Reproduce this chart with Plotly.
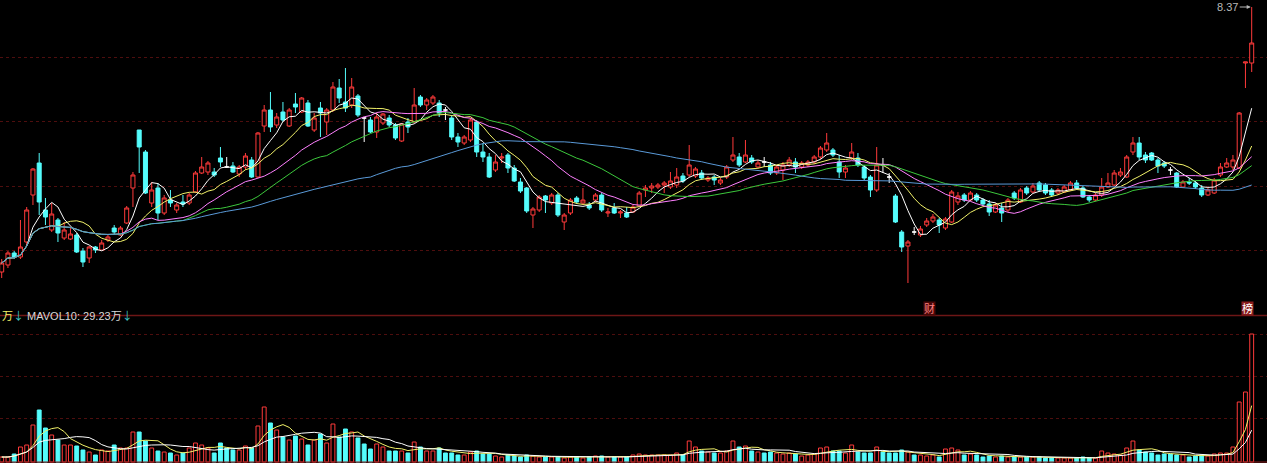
import plotly.graph_objects as go
import pandas as pd

# ---------------- data ----------------
open_ = [5.72, 5.79, 5.91, 5.87, 6.02, 6.49, 6.81, 6.34, 6.14, 6.24,
         6.06, 6.05, 6.09, 5.93, 5.86, 5.97, 5.94, 6.04, 6.16, 6.09,
         6.21, 6.56, 7.14, 6.92, 6.41, 6.56, 6.31, 6.44, 6.34, 6.42,
         6.41, 6.52, 6.71, 6.72, 6.72, 6.86, 6.77, 6.78, 6.70, 6.77,
         6.84, 6.67, 7.18, 7.34, 7.19, 7.32, 7.18, 7.40, 7.32, 7.41,
         7.14, 7.36, 7.22, 7.34, 7.56, 7.42, 7.39, 7.48, 7.26, 7.24,
         7.12, 7.21, 7.26, 7.19, 7.03, 7.22, 7.22, 7.47, 7.39, 7.41,
         7.41, 7.34, 7.26, 7.07, 7.01, 7.04, 7.22, 6.92, 6.87, 6.74,
         6.86, 6.89, 6.76, 6.62, 6.56, 6.29, 6.34, 6.48, 6.41, 6.49,
         6.22, 6.31, 6.46, 6.41, 6.39, 6.44, 6.49, 6.31, 6.36, 6.31,
         6.31, 6.32, 6.38, 6.54, 6.56, 6.57, 6.59, 6.57, 6.59, 6.68,
         6.69, 6.68, 6.71, 6.64, 6.67, 6.61, 6.67, 6.84, 6.87, 6.82,
         6.86, 6.77, 6.82, 6.79, 6.71, 6.74, 6.79, 6.82, 6.77, 6.79,
         6.82, 6.87, 6.94, 6.94, 6.82, 6.72, 6.86, 6.86, 6.77, 6.67,
         6.54, 6.79, 6.67, 6.48, 6.12, 5.98, 6.12, 6.09, 6.19, 6.23,
         6.24, 6.16, 6.22, 6.42, 6.49, 6.44, 6.49, 6.44, 6.40, 6.32,
         6.36, 6.34, 6.51, 6.42, 6.56, 6.52, 6.61, 6.59, 6.54, 6.51,
         6.52, 6.54, 6.61, 6.56, 6.47, 6.44, 6.49, 6.57, 6.59, 6.69,
         6.67, 6.92, 7.01, 6.89, 6.91, 6.84, 6.81, 6.74, 6.71, 6.57,
         6.62, 6.61, 6.56, 6.49, 6.51, 6.69, 6.77, 6.77, 6.76, 7.81,
         7.81]
high = [5.85, 5.93, 5.93, 6.24, 6.37, 6.76, 6.91, 6.46, 6.41, 6.26,
        6.22, 6.16, 6.11, 5.96, 5.98, 5.98, 6.04, 6.09, 6.19, 6.18,
        6.38, 6.72, 7.14, 6.94, 6.62, 6.61, 6.49, 6.54, 6.41, 6.49,
        6.51, 6.73, 6.87, 6.83, 6.76, 6.97, 6.87, 6.82, 6.79, 6.91,
        6.87, 7.12, 7.39, 7.52, 7.31, 7.42, 7.36, 7.51, 7.47, 7.44,
        7.31, 7.42, 7.36, 7.62, 7.65, 7.76, 7.66, 7.50, 7.27, 7.27,
        7.31, 7.31, 7.29, 7.21, 7.21, 7.26, 7.56, 7.49, 7.46, 7.49,
        7.44, 7.37, 7.29, 7.11, 7.09, 7.26, 7.24, 7.01, 6.91, 6.89,
        6.91, 6.91, 6.79, 6.66, 6.57, 6.37, 6.49, 6.49, 6.51, 6.51,
        6.31, 6.46, 6.48, 6.56, 6.42, 6.51, 6.51, 6.36, 6.41, 6.34,
        6.37, 6.39, 6.53, 6.59, 6.61, 6.61, 6.63, 6.72, 6.76, 6.71,
        6.99, 6.77, 6.74, 6.68, 6.69, 6.66, 6.79, 7.07, 6.91, 7.04,
        6.89, 6.84, 6.87, 6.82, 6.79, 6.82, 6.87, 6.86, 6.83, 6.84,
        6.89, 6.98, 7.11, 6.96, 6.89, 6.79, 7.01, 6.91, 6.79, 6.69,
        6.97, 6.86, 6.71, 6.50, 6.14, 6.04, 6.17, 6.18, 6.26, 6.30,
        6.26, 6.27, 6.54, 6.52, 6.51, 6.53, 6.51, 6.46, 6.44, 6.41,
        6.41, 6.46, 6.53, 6.56, 6.58, 6.61, 6.63, 6.61, 6.56, 6.56,
        6.59, 6.63, 6.64, 6.58, 6.49, 6.51, 6.66, 6.71, 6.74, 6.76,
        6.89, 7.07, 7.07, 6.92, 6.92, 6.86, 6.83, 6.77, 6.72, 6.64,
        6.66, 6.63, 6.59, 6.56, 6.66, 6.81, 6.86, 6.89, 7.32, 7.82,
        8.37]
low = [5.66, 5.76, 5.85, 5.85, 5.99, 6.39, 6.29, 6.19, 6.12, 6.02,
       6.04, 6.04, 5.91, 5.77, 5.81, 5.91, 5.94, 6.02, 6.09, 6.08,
       6.20, 6.37, 6.71, 6.50, 6.37, 6.24, 6.29, 6.37, 6.31, 6.37,
       6.39, 6.51, 6.70, 6.69, 6.67, 6.77, 6.76, 6.71, 6.67, 6.74,
       6.66, 6.66, 7.12, 7.12, 7.16, 7.22, 7.17, 7.31, 7.31, 7.17,
       7.12, 7.07, 7.09, 7.32, 7.41, 7.32, 7.36, 7.27, 7.02, 7.11,
       7.06, 7.19, 7.17, 7.04, 7.02, 7.11, 7.21, 7.37, 7.34, 7.39,
       7.27, 7.24, 7.04, 6.97, 6.99, 7.02, 6.87, 6.82, 6.66, 6.72,
       6.81, 6.71, 6.62, 6.51, 6.31, 6.16, 6.32, 6.31, 6.39, 6.27,
       6.14, 6.29, 6.40, 6.39, 6.34, 6.42, 6.32, 6.27, 6.30, 6.26,
       6.26, 6.31, 6.37, 6.47, 6.51, 6.55, 6.51, 6.55, 6.56, 6.61,
       6.67, 6.66, 6.64, 6.62, 6.59, 6.59, 6.65, 6.82, 6.77, 6.81,
       6.80, 6.76, 6.77, 6.69, 6.69, 6.64, 6.77, 6.71, 6.75, 6.77,
       6.80, 6.85, 6.92, 6.87, 6.66, 6.66, 6.84, 6.77, 6.64, 6.47,
       6.52, 6.71, 6.61, 6.21, 5.92, 5.61, 6.09, 6.07, 6.17, 6.21,
       6.11, 6.14, 6.21, 6.39, 6.42, 6.43, 6.42, 6.38, 6.28, 6.31,
       6.22, 6.32, 6.44, 6.41, 6.49, 6.51, 6.52, 6.49, 6.47, 6.49,
       6.51, 6.53, 6.54, 6.46, 6.42, 6.43, 6.47, 6.56, 6.58, 6.67,
       6.66, 6.89, 6.84, 6.81, 6.83, 6.71, 6.76, 6.69, 6.56, 6.56,
       6.59, 6.55, 6.47, 6.48, 6.50, 6.67, 6.76, 6.74, 6.75, 7.56,
       7.72]
close = [5.81, 5.91, 5.87, 5.97, 6.34, 6.75, 6.42, 6.27, 6.30, 6.11,
         6.14, 6.10, 5.92, 5.82, 5.97, 5.94, 6.01, 6.07, 6.12, 6.16,
         6.36, 6.69, 6.97, 6.51, 6.54, 6.31, 6.46, 6.41, 6.39, 6.40,
         6.49, 6.71, 6.77, 6.81, 6.69, 6.82, 6.77, 6.72, 6.77, 6.88,
         6.67, 7.11, 7.34, 7.17, 7.27, 7.24, 7.34, 7.37, 7.46, 7.18,
         7.26, 7.31, 7.34, 7.57, 7.46, 7.36, 7.57, 7.29, 7.26, 7.12,
         7.27, 7.30, 7.19, 7.06, 7.20, 7.17, 7.39, 7.39, 7.44, 7.47,
         7.31, 7.34, 7.07, 7.02, 7.07, 7.24, 6.92, 6.87, 6.67, 6.82,
         6.87, 6.76, 6.63, 6.53, 6.33, 6.35, 6.47, 6.44, 6.49, 6.29,
         6.29, 6.44, 6.42, 6.44, 6.36, 6.49, 6.34, 6.32, 6.31, 6.32,
         6.27, 6.37, 6.51, 6.56, 6.58, 6.59, 6.61, 6.63, 6.67, 6.63,
         6.79, 6.75, 6.66, 6.66, 6.64, 6.64, 6.77, 6.89, 6.79, 6.89,
         6.82, 6.81, 6.82, 6.71, 6.77, 6.79, 6.84, 6.77, 6.81, 6.82,
         6.87, 6.96, 7.01, 6.89, 6.72, 6.76, 6.92, 6.79, 6.66, 6.54,
         6.79, 6.79, 6.67, 6.22, 5.97, 6.02, 6.12, 6.15, 6.23, 6.27,
         6.19, 6.25, 6.52, 6.48, 6.44, 6.51, 6.44, 6.40, 6.32, 6.39,
         6.31, 6.44, 6.46, 6.54, 6.51, 6.58, 6.54, 6.51, 6.49, 6.54,
         6.57, 6.61, 6.56, 6.47, 6.44, 6.49, 6.57, 6.61, 6.71, 6.72,
         6.87, 7.01, 6.87, 6.84, 6.84, 6.78, 6.78, 6.74, 6.57, 6.62,
         6.61, 6.57, 6.49, 6.54, 6.64, 6.77, 6.81, 6.84, 7.31, 7.82,
         8.01]
# volume, unit: 万 (10k shares)
volume = [5, 5, 8, 15, 17, 37, 52, 34, 27, 22,
          17, 17, 16, 12, 10, 7, 12, 11, 17, 14,
          14, 30, 30, 21, 14, 11, 10, 9, 7, 9,
          14, 19, 17, 14, 9, 19, 14, 12, 12, 16,
          14, 36, 55, 39, 32, 25, 22, 26, 23, 17,
          22, 28, 19, 38, 25, 33, 30, 24, 18, 13,
          18, 15, 11, 11, 11, 9, 20, 15, 11, 11,
          14, 9, 9, 7, 7, 10, 11, 8, 8, 6,
          5, 7, 6, 5, 7, 6, 5, 5, 5, 5,
          4, 5, 5, 4, 5, 6, 6, 5, 5, 5,
          5, 7, 8, 7, 7, 7, 7, 7, 9, 7,
          21, 15, 11, 10, 9, 9, 11, 21, 15, 16,
          11, 10, 9, 10, 9, 8, 9, 8, 6, 7,
          8, 14, 15, 11, 11, 9, 17, 10, 9, 9,
          15, 10, 9, 9, 12, 10, 7, 7, 6, 7,
          5, 13, 14, 12, 7, 8, 7, 5, 6, 5,
          6, 5, 5, 5, 5, 5, 5, 4, 4, 4,
          4, 4, 4, 5, 4, 4, 11, 9, 8, 7,
          14, 21, 12, 10, 9, 7, 8, 8, 7, 7,
          5, 6, 7, 6, 8, 9, 9, 15, 60, 70,
          128]

price_ma_windows = [5, 10, 20, 30, 60]
vol_ma_windows = [5, 10]
price_grid = [7.87, 7.225, 6.58, 5.935]
vol_grid = [44, 86, 128]
top_label = "8.37"
vol_label = "MAVOL10: 29.23万"

# ---------------- styling ----------------
RED = "#ff3a3a"
CYAN = "#54fcfc"
GRID = "#4e0e0e"
ma_colors = {5: "#ffffff", 10: "#f2f26a", 20: "#ff80ff", 30: "#3cc83c", 60: "#5a9ad8"}
vol_ma_colors = {5: "#f2f26a", 10: "#ffffff"}
FONT = "Liberation Sans, Arial, Noto Sans CJK SC, sans-serif"
ARROW = '<span style="color:#40c8c8;font-family:\'Noto Sans CJK SC\'">↓</span>'

df = pd.DataFrame({"o": open_, "h": high, "l": low, "c": close, "v": volume})
df["i"] = range(len(df))
up = df[df.c > df.o]
down = df[df.c < df.o]
flat = df[df.c == df.o]

fig = go.Figure()

def add_candles(d, color, fill):
    fig.add_trace(go.Candlestick(
        x=d.i, open=d.o, high=d.h, low=d.l, close=d.c,
        increasing=dict(line=dict(color=color, width=1), fillcolor=fill),
        decreasing=dict(line=dict(color=color, width=1), fillcolor=fill),
        whiskerwidth=0, hoverinfo="skip", showlegend=False,
        xaxis="x", yaxis="y"))

add_candles(up, RED, "#000000")
add_candles(down, CYAN, CYAN)
add_candles(flat, "#ffffff", "#ffffff")

for w in price_ma_windows:
    fig.add_trace(go.Scatter(
        x=df.i, y=df.c.rolling(w, min_periods=1).mean(), mode="lines",
        line=dict(color=ma_colors[w], width=1), hoverinfo="skip",
        showlegend=False, xaxis="x", yaxis="y"))

vol_fill = ["#000000" if c > o else CYAN for o, c in zip(open_, close)]
vol_line = [RED if c > o else CYAN for o, c in zip(open_, close)]
fig.add_trace(go.Bar(
    x=df.i, y=df.v, width=0.62,
    marker=dict(color=vol_fill, line=dict(color=vol_line, width=1)),
    hoverinfo="skip", showlegend=False, xaxis="x2", yaxis="y2"))

for w in vol_ma_windows:
    fig.add_trace(go.Scatter(
        x=df.i, y=df.v.rolling(w, min_periods=1).mean(), mode="lines",
        line=dict(color=vol_ma_colors[w], width=1), hoverinfo="skip",
        showlegend=False, xaxis="x2", yaxis="y2"))

H = 463
sep = 315.5
xr = [-0.272, 202.45]

fig.update_layout(
    width=1267, height=H,
    margin=dict(l=0, r=0, t=0, b=0),
    paper_bgcolor="#000000", plot_bgcolor="#000000",
    boxgap=0.36, boxgroupgap=0,
    xaxis=dict(domain=[0, 1], range=xr, visible=False, rangeslider=dict(visible=False)),
    xaxis2=dict(domain=[0, 1], range=xr, visible=False, anchor="y2", matches="x"),
    yaxis=dict(domain=[1 - 315 / H, 1], range=[5.29, 8.44],
               tickvals=price_grid, showticklabels=False, ticks="",
               showgrid=True, gridcolor=GRID, griddash="dot", gridwidth=1,
               zeroline=False, showline=False),
    yaxis2=dict(domain=[0, 147 / H], range=[-1, 146], anchor="x2",
                tickvals=vol_grid, showticklabels=False, ticks="",
                showgrid=True, gridcolor=GRID, griddash="dot", gridwidth=1,
                zeroline=False, showline=False),
    font=dict(family=FONT, color="#c8c8c8", size=11),
    shapes=[
        dict(type="line", xref="paper", yref="paper", x0=0, x1=1,
             y0=1 - sep / H, y1=1 - sep / H, line=dict(color="#6e1616", width=1.5)),
        dict(type="line", xref="paper", yref="y2", x0=0, x1=1,
             y0=0, y1=0, line=dict(color="#8a1c1c", width=1)),
    ],
    annotations=[
        dict(x=200, y=high[200], xref="x", yref="y", text=top_label,
             showarrow=True, ax=-24, ay=0, arrowhead=2, arrowsize=0.8,
             arrowwidth=1, arrowcolor="#b8b8b8", standoff=1,
             font=dict(color="#b8b8b8", size=11), xanchor="center"),
        dict(x=148.5, y=1 - 308 / H, xref="x", yref="paper", text="财",
             showarrow=False, font=dict(color="#ff8080", size=11),
             bgcolor="#4a0808", borderpad=0),
        dict(x=199.3, y=1 - 308 / H, xref="x", yref="paper", text="榜",
             showarrow=False, font=dict(color="#ffffff", size=11),
             bgcolor="#8a1c1c", borderpad=0),
        dict(x=0, y=1 - 325 / H, xref="paper", yref="paper", xanchor="left",
             text='<span style="color:#f2f26a">万</span>' + ARROW + ' '
                  + vol_label + ARROW,
             showarrow=False, font=dict(color="#d8d8d8", size=11)),
    ],
)

fig.write_html(
    "out.html",
    config={"displayModeBar": False},
    post_script="document.body.style.margin='0';document.body.style.padding='0';"
                "document.body.style.background='#000';document.body.style.overflow='hidden';",
)
